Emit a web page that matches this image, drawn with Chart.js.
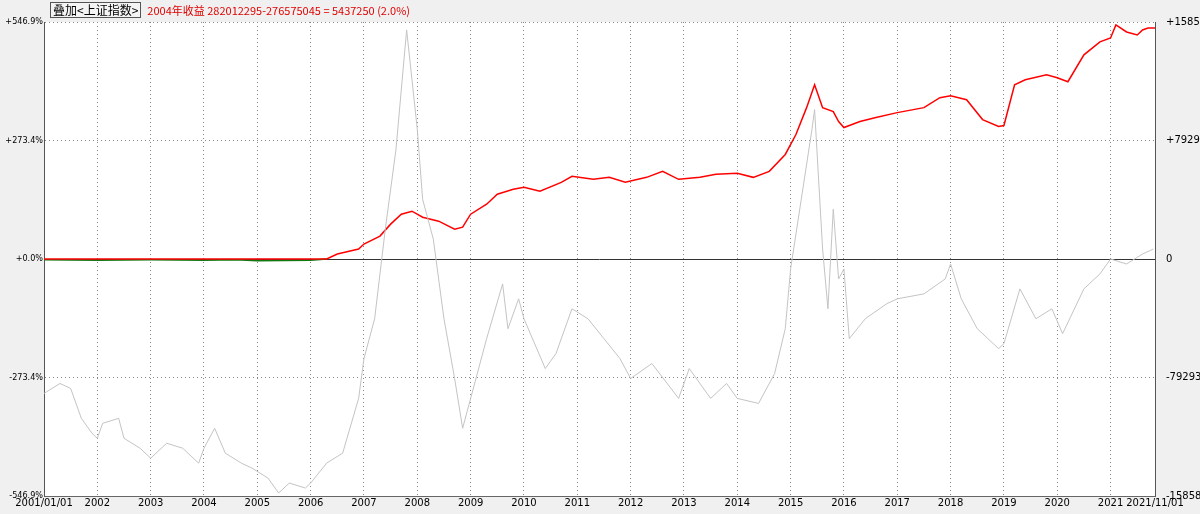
<!DOCTYPE html><html><head><meta charset="utf-8">
<script src="https://cdn.jsdelivr.net/npm/chart.js@4"></script>
<style>body{margin:0;background:#f0f0f0;overflow:hidden}#w{position:relative;width:1200px;height:514px}
#h{position:absolute;left:50px;top:2px;font:11px "Noto Sans CJK SC",sans-serif;white-space:nowrap}
#b{display:inline-block;border:1px solid #555;padding:0 2px;line-height:14px;background:#f4f4f4;color:#000;font-size:12px}
#t{color:#e00000;margin-left:6px}</style></head><body><div id="w"><canvas id="c" width="1200" height="514"></canvas>
<div id="h"><span id="b">叠加&lt;上证指数&gt;</span><span id="t">2004年收益 282012295-276575045 = 5437250 (2.0%)</span></div></div>
<script>
const yearTicks=[2001,2002,2003,2004,2005,2006,2007,2008,2009,2010,2011,2012,2013,2014,2015,2016,2017,2018,2019,2020,2021,2021.833];
const leftTicks=[-546.9,-273.4,0,273.4,546.9];
const leftLabels=['-546.9%','-273.4%','+0.0%','+273.4%','+546.9%'];
const rightLabels=['-1585868031','-792934016','0','+792934016','+1585868031'];
const px=v=>(260-v)/238*546.9;
const idxX=[2001,2001.3,2001.5,2001.7,2001.9,2002,2002.1,2002.4,2002.5,2002.8,2003,2003.3,2003.6,2003.9,2004,2004.2,2004.4,2004.7,2004.9,2005.2,2005.4,2005.6,2005.9,2006,2006.3,2006.6,2006.9,2007,2007.2,2007.4,2007.6,2007.8,2007.9,2008,2008.1,2008.3,2008.5,2008.7,2008.85,2009,2009.3,2009.6,2009.7,2009.9,2010,2010.4,2010.6,2010.9,2011.2,2011.5,2011.8,2012,2012.4,2012.9,2013.1,2013.5,2013.8,2014,2014.4,2014.7,2014.9,2015,2015.2,2015.4,2015.45,2015.6,2015.7,2015.8,2015.9,2016,2016.1,2016.4,2016.8,2017,2017.5,2017.9,2018,2018.2,2018.5,2018.9,2019,2019.3,2019.6,2019.9,2020.1,2020.5,2020.8,2021,2021.3,2021.6,2021.8];
const idxY=[395,385,390,420,435,440,425,420,440,450,460,445,450,465,450,430,455,465,470,480,495,485,490,485,465,455,400,360,320,230,150,30,80,130,200,240,320,380,430,400,340,285,330,300,320,370,355,310,320,340,360,380,365,400,370,400,385,400,405,375,330,270,200,130,110,250,310,210,280,270,340,320,305,300,295,280,265,300,330,350,345,290,320,310,335,290,275,260,265,255,250];
const stratX=[2001,2006.3,2006.5,2006.9,2007,2007.3,2007.5,2007.7,2007.9,2008.1,2008.4,2008.7,2008.85,2009,2009.3,2009.5,2009.8,2010,2010.3,2010.7,2010.9,2011.3,2011.6,2011.9,2012.3,2012.6,2012.9,2013.3,2013.6,2014,2014.3,2014.6,2014.9,2015.1,2015.3,2015.45,2015.6,2015.8,2015.9,2016,2016.3,2016.6,2017,2017.5,2017.8,2018,2018.3,2018.6,2018.9,2019,2019.2,2019.4,2019.8,2020,2020.2,2020.5,2020.8,2021,2021.1,2021.3,2021.5,2021.6,2021.7,2021.833];
const stratY=[260,260,255,250,245,237,225,215,212,218,222,230,228,215,205,195,190,188,192,183,177,180,178,183,178,172,180,178,175,174,178,172,155,135,108,85,108,112,122,128,122,118,113,108,98,96,100,120,127,126,85,80,75,78,82,55,42,38,25,32,35,30,28,28];
const preX=[2001,2002,2003,2004,2004.6,2005,2006,2006.3];
const preY=[-1.5,-3,-2,-3,-2,-4,-3,0];
const idx=idxX.map((x,i)=>({x,y:px(idxY[i])}));
const strat=stratX.map((x,i)=>({x,y:px(stratY[i])}));
const pre=preX.map((x,i)=>({x,y:preY[i]}));
const font={family:'DejaVu Sans Condensed',size:9};
new Chart(document.getElementById('c'),{type:'line',
data:{datasets:[
{data:idx,borderColor:'#c4c4c4',borderWidth:1,pointRadius:0,tension:0},
{data:strat,borderColor:'#ff0000',borderWidth:1.5,pointRadius:0},
{data:pre,borderColor:'#117711',borderWidth:1.5,pointRadius:0}]},
options:{responsive:false,animation:false,plugins:{legend:{display:false},tooltip:{enabled:false}},
layout:{padding:{top:22,left:0,right:0,bottom:0}},
scales:{
x:{type:'linear',min:2001,max:2021.833,afterBuildTicks:a=>{a.ticks=yearTicks.map(v=>({value:v}))},
 afterFit:a=>{a.height=18},
 ticks:{color:'#000',font:{family:'DejaVu Sans',size:10},maxRotation:0,autoSkip:false,padding:1,callback:v=>v===2001?'2001/01/01':(v>2021.5?'2021/11/01':String(v))},
 grid:{color:'#888',lineWidth:1,drawTicks:false},border:{color:'#666',dash:[1,3]}},
y:{min:-546.9,max:546.9,afterBuildTicks:a=>{a.ticks=leftTicks.map(v=>({value:v}))},afterFit:a=>{a.width=44},
 ticks:{color:'#000',font,padding:1,callback:(v,i)=>leftLabels[i]},
 grid:{color:'#888',drawTicks:false},border:{color:'#555',dash:[1,3]}},
y2:{position:'right',min:-546.9,max:546.9,afterBuildTicks:a=>{a.ticks=leftTicks.map(v=>({value:v}))},afterFit:a=>{a.width=45},
 ticks:{color:'#000',font:{family:'DejaVu Sans',size:10},padding:3,callback:(v,i)=>rightLabels[i]},grid:{display:false},border:{color:'#555'}}
}},
plugins:[{id:'bg',beforeDraw(ch){const {ctx,chartArea:a}=ch;ctx.save();ctx.fillStyle='#fff';ctx.fillRect(a.left,a.top,a.width,a.height);ctx.restore();},
beforeDatasetsDraw(ch){const {ctx,chartArea:a,scales}=ch;ctx.save();ctx.strokeStyle='#333';ctx.lineWidth=1;const y=Math.round(scales.y.getPixelForValue(0))+0.5;ctx.beginPath();ctx.moveTo(a.left,y);ctx.lineTo(a.right,y);ctx.stroke();ctx.restore();}}]
});
</script></body></html>
